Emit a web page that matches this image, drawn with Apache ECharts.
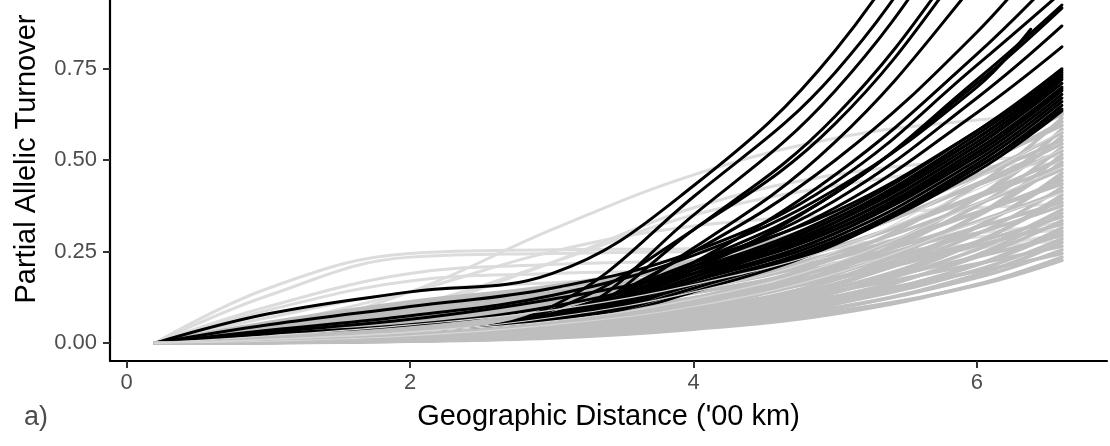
<!DOCTYPE html>
<html>
<head>
<meta charset="utf-8">
<script src="https://cdn.jsdelivr.net/npm/echarts@6/dist/echarts.min.js"></script>
<style>
  html, body { margin: 0; padding: 0; background: #fff; }
  #chart { width: 1110px; height: 446px; }
</style>
</head>
<body>
<div id="chart"></div>
<script>
// Distances ('00 km) at which each turnover curve is sampled
const distances = [0.2, 1, 2, 3, 4, 5, 6, 6.6];
// One curve stops short of the full distance range
const shortDistances = [0.2, 1, 2, 3, 4, 5, 6, 6.38];

const xTicks = [0, 2, 4, 6];
const yTicks = [0, 0.25, 0.5, 0.75];

// Null-model curves (grey) that rise early
const greyFastCurves = [
  [0, .012, .029, .049, .081, .127, .196, .245],
  [0, .024, .048, .066, .095, .143, .217, .265],
  [0, .015, .035, .059, .097, .153, .236, .295],
  [0, .029, .059, .081, .117, .176, .267, .325],
  [0, .017, .041, .069, .114, .179, .276, .345],
  [0, .019, .045, .075, .124, .195, .300, .375],
  [0, .035, .069, .096, .139, .208, .316, .385],
  [0, .021, .050, .083, .137, .216, .332, .415],
  [0, .039, .078, .109, .157, .235, .357, .435],
  [0, .022, .053, .089, .147, .231, .356, .445],
  [0, .024, .057, .095, .157, .247, .380, .475],
  [0, .044, .087, .121, .175, .262, .398, .485],
  [0, .025, .061, .101, .167, .263, .404, .505],
  [0, .047, .095, .131, .189, .284, .431, .525],
  [0, .027, .065, .109, .180, .283, .436, .545],
  [0, .050, .100, .139, .200, .300, .455, .555],
  [0, .029, .069, .115, .190, .299, .460, .575],
  [0, .054, .107, .149, .214, .321, .488, .595],
  [0, .030, .073, .121, .200, .315, .484, .605],
  [0, .056, .113, .156, .225, .338, .513, .625],
  [0, .032, .076, .126, .208, .328, .504, .630]
];

// Null-model curves (grey) that stay low until larger distances
const greySlowCurves = [
  [0, .002, .009, .020, .045, .086, .158, .226],
  [0, .001, .005, .014, .038, .080, .160, .235],
  [0, .003, .010, .023, .051, .097, .179, .255],
  [0, .001, .006, .017, .044, .094, .187, .275],
  [0, .003, .011, .026, .057, .108, .200, .285],
  [0, .003, .012, .027, .061, .116, .214, .305],
  [0, .002, .006, .019, .050, .107, .214, .315],
  [0, .003, .013, .030, .067, .127, .235, .335],
  [0, .002, .007, .021, .057, .121, .241, .355],
  [0, .004, .015, .033, .073, .139, .256, .365],
  [0, .004, .016, .036, .079, .150, .277, .395],
  [0, .002, .008, .024, .065, .138, .275, .405],
  [0, .004, .017, .038, .085, .162, .298, .425],
  [0, .005, .018, .041, .091, .173, .319, .455],
  [0, .002, .009, .028, .074, .158, .316, .465],
  [0, .005, .020, .045, .099, .188, .347, .495],
  [0, .003, .010, .031, .082, .175, .350, .515],
  [0, .005, .021, .048, .107, .203, .375, .535],
  [0, .006, .023, .051, .113, .215, .396, .565],
  [0, .003, .012, .035, .094, .199, .398, .585],
  [0, .006, .025, .055, .123, .234, .431, .615]
];

// Lighter null-model curves
const lightCurves = [
  [0, .150, .245, .255, .258, .270, .300, .330],
  [0, .130, .235, .245, .250, .260, .290, .310],
  [0, .030, .140, .310, .460, .560, .610, .620],
  [0, .020, .090, .220, .370, .460, .500, .510],
  [0, .100, .190, .215, .225, .240, .270, .290],
  [0, .090, .170, .190, .200, .220, .260, .280],
  [0, .070, .140, .165, .180, .210, .260, .300],
  [0, .030, .100, .220, .350, .430, .480, .490],
  [0, .050, .140, .250, .320, .350, .370, .380]
];
// Thin light streaks through the grey band
const lightStreakCurves = [
  [0, .010, .030, .060, .120, .220, .380, .480],
  [0, .005, .020, .050, .100, .190, .330, .410],
  [0, .020, .050, .090, .160, .260, .420, .530],
  [0, .010, .030, .070, .140, .250, .450, .580]
];

// Observed curves (black)
const blackCurves = [
  [0, .080, .140, .190, .430, .800, 1.38, 1.72],
  [0, .006, .024, .100, .400, .740, 1.28, 1.62],
  [0, .004, .015, .060, .350, .690, 1.21, 1.56],
  [0, .003, .012, .050, .310, .620, 1.11, 1.46],
  [0, .005, .022, .090, .310, .600, 1.08, 1.42],
  [0, .003, .010, .045, .260, .550, .990, 1.30],
  [0, .005, .020, .070, .250, .500, .850, 1.12],
  [0, .002, .008, .040, .220, .460, .790, 1.02],
  [0, .050, .100, .150, .250, .440, .760, .960],
  [0, .004, .020, .080, .220, .410, .720, .924],
  [0, .003, .012, .050, .200, .410, .710, .916],
  [0, .004, .016, .060, .210, .390, .670, .867],
  [0, .005, .020, .070, .210, .370, .630, .810],
  [0, .006, .022, .075, .200, .350, .580, .750],
  [0, .006, .024, .080, .220, .360, .580, .745],
  [0, .004, .015, .060, .190, .340, .570, .740],
  [0, .030, .065, .120, .200, .340, .560, .735],
  [0, .002, .008, .035, .170, .330, .560, .730],
  [0, .005, .018, .065, .190, .330, .550, .725],
  [0, .025, .050, .100, .190, .320, .540, .720],
  [0, .003, .010, .045, .180, .320, .540, .710],
  [0, .004, .014, .055, .180, .310, .530, .700],
  [0, .005, .020, .070, .190, .310, .520, .695],
  [0, .002, .008, .035, .170, .300, .520, .690],
  [0, .005, .020, .070, .170, .300, .510, .680],
  [0, .006, .022, .075, .170, .290, .500, .670],
  [0, .003, .012, .050, .160, .280, .490, .660],
  [0, .004, .016, .060, .160, .280, .480, .650],
  [0, .002, .009, .040, .140, .270, .480, .640],
  [0, .003, .011, .045, .150, .275, .470, .635]
];
const blackShortCurve = [0, .035, .075, .130, .240, .420, .700, .858];

function curveSeries(xs, ys, color, width) {
  return {
    type: 'line',
    data: xs.map((x, i) => [x, ys[i]]),
    showSymbol: false,
    smooth: 0.4,
    clip: true,
    silent: true,
    lineStyle: { color: color, width: width, cap: 'round' }
  };
}

// Drawing order sets which curves sit on top where they overlap
const series = [];
lightCurves.forEach(c => series.push(curveSeries(distances, c, '#dcdcdc', 3)));
greyFastCurves.forEach(c => series.push(curveSeries(distances, c, '#bebebe', 3.6)));
blackCurves.forEach(c => series.push(curveSeries(distances, c, '#000000', 3)));
series.push(curveSeries(shortDistances, blackShortCurve, '#000000', 3));
greySlowCurves.forEach(c => series.push(curveSeries(distances, c, '#bebebe', 3.6)));
lightStreakCurves.forEach(c => series.push(curveSeries(distances, c, '#d6d6d6', 1.2)));

const font = 'Liberation Sans, Arial, sans-serif';
const chart = echarts.init(document.getElementById('chart'), null, { renderer: 'canvas' });
chart.setOption({
  animation: false,
  backgroundColor: '#ffffff',
  grid: { left: 110, right: 3, top: 0, bottom: 85 },
  xAxis: {
    type: 'value',
    min: -0.118,
    max: 6.918,
    name: "Geographic Distance ('00 km)",
    nameLocation: 'middle',
    nameGap: 41,
    nameTextStyle: { color: '#000', fontSize: 29, fontFamily: font },
    axisLine: { show: true, onZero: false, lineStyle: { color: '#000', width: 2.2 } },
    axisTick: { show: true, length: 7, customValues: xTicks, lineStyle: { color: '#333', width: 2 } },
    axisLabel: { customValues: xTicks, color: '#4d4d4d', fontSize: 22, fontFamily: font, margin: 11,
      formatter: v => String(v) },
    splitLine: { show: false }
  },
  yAxis: {
    type: 'value',
    min: -0.049,
    max: 0.938,
    axisLine: { show: true, onZero: false, lineStyle: { color: '#000', width: 2.2 } },
    axisTick: { show: true, length: 7, customValues: yTicks, lineStyle: { color: '#333', width: 2 } },
    axisLabel: { customValues: yTicks, color: '#4d4d4d', fontSize: 22, fontFamily: font, margin: 13,
      formatter: v => v.toFixed(2) },
    splitLine: { show: false }
  },
  graphic: [
    {
      type: 'text',
      x: 27, y: 159,
      rotation: Math.PI / 2,
      style: { text: 'Partial Allelic Turnover', fill: '#000', fontSize: 29, fontFamily: font,
        align: 'center', verticalAlign: 'middle' }
    },
    {
      type: 'text',
      x: 24, y: 418,
      style: { text: 'a)', fill: '#4d4d4d', fontSize: 27, fontFamily: font,
        align: 'left', verticalAlign: 'middle' }
    }
  ],
  series: series
});
</script>
</body>
</html>
